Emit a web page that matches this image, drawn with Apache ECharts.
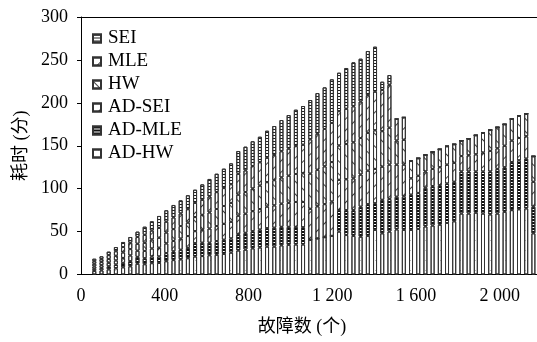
<!DOCTYPE html>
<html><head><meta charset="utf-8">
<script src="https://cdn.jsdelivr.net/npm/echarts@6/dist/echarts.min.js"></script>
<style>html,body{margin:0;padding:0;background:#fff}#c{width:537px;height:342px}</style>
</head><body><div id="c"></div>
<script>
// fault counts (one bar each)
const faults = [64,98,133,167,202,236,270,305,339,374,408,442,477,511,546,580,614,649,683,718,752,786,821,855,890,924,958,993,1027,1062,1096,1130,1165,1199,1234,1268,1302,1337,1371,1406,1440,1474,1509,1543,1578,1612,1646,1681,1715,1750,1784,1818,1853,1887,1922,1956,1990,2025,2059,2094,2128,2162];
// stacked segments, bottom to top
const adHW  = [4.2,4.8,6.0,7.2,8.4,9.6,12.5,12.0,13.2,13.5,15.5,16.8,17.8,19.0,21.0,21.5,22.5,23.0,24.0,25.5,28.0,29.0,30.5,31.5,32.5,32.5,34.0,34.5,35.0,35.0,40.5,42.0,43.5,45.0,50.0,46.0,45.0,44.0,45.0,52.0,48,50,52.6,52,52,53,56,57,58,60,62,71,71,72,71,70,71,73,75,76,77,48];
const adMLE = [2.4,2.9,3.6,4.4,5.2,6.0,8.0,7.0,7.8,7.5,9.5,10.2,11.0,12.0,15.5,15.5,14.5,16.0,16.5,16.5,19.0,19.5,20.0,20.8,21.5,22.0,21.5,21.0,20.5,20.0,0,0,0,0,25.0,29.0,30.0,35.0,37.0,31.0,39,38,38,39,41,42,45,46,46,46,46,49,49,48,49,50,52,52,56,57,58,31];
const adSEI = [2.8,3.2,4.0,4.8,5.7,6.6,7.2,8.4,9.3,10.2,11.2,12.1,13.0,13.8,14.0,15.0,16.5,17.5,18.5,19.4,21.5,22.3,23.3,24.0,25.1,26.0,27.0,28.0,29.0,29.5,36.0,37.5,38.5,40.0,35.3,36.0,37.0,37.5,39.0,40.0,38.6,40,37.4,37,19,20,19,20,21,22,22,18,19,20,22,24,24,25,25,26,26,29];
const hw    = [3.1,3.6,4.5,5.4,6.4,7.4,8.1,9.5,10.5,11.6,12.7,13.8,14.7,15.7,16.4,17.5,18.8,19.8,20.8,22.0,24.5,25.3,26.4,27.3,28.5,29.4,30.6,31.6,32.6,33.4,41.0,42.5,44.0,46.0,40.0,41.0,42.0,42.5,44.0,45.0,41.4,43,28,29,20.2,20.4,19.2,19.7,20.9,21.4,21.7,17.9,19.2,22.2,23.2,24.3,24.5,25,25.2,26,26.3,29.7];
const mle   = [3.0,3.5,4.5,5.3,6.3,7.3,7.9,9.3,10.4,11.5,12.6,13.6,14.6,15.6,16.5,17.5,18.7,19.7,20.9,21.8,24.3,25.2,26.2,27.2,28.4,29.3,30.5,31.5,32.5,33.3,40.0,42.0,43.5,45.5,40.0,41.0,42.0,42.5,44.0,45.0,48,50,25.2,26.1,0,0,0,0,0,0,0,0,0,0,0,0,0,0,0,0,0,0];
const sei   = [2.9,3.2,4.0,4.9,5.9,6.8,6.2,9.5,10.8,13.9,13.3,14.5,15.3,16.2,15.4,18.0,20.3,21.4,22.6,24.3,26.6,27.6,28.8,29.7,31.5,33.8,36.4,39.2,42.4,45.1,45.8,47.4,48.5,50.9,44.8,47.6,51.2,49.9,51.4,52.4,9.6,11.4,0,0,0,0,0,0,0,0,0,0,0,0,0,0,0,0,0,0,0,0];
const legendNames = ['SEI','MLE','HW','AD-SEI','AD-MLE','AD-HW'];
const xTicks = [0,400,800,1200,1600,2000];
const yTicks = [0,50,100,150,200,250,300];

const FONT = '"Liberation Serif", "Noto Sans CJK SC", serif';
const chart = echarts.init(document.getElementById('c'), null, {renderer:'canvas'});

function line(rot, gap){
  return {symbol:'rect', symbolSize:1, color:'rgba(0,0,0,0.75)', dashArrayX:[1,0], dashArrayY:[1,gap], rotation:rot};
}
const styles = {
  'AD-HW':  {color:'#fff', decal:{symbol:'rect', symbolSize:1, color:'rgba(0,0,0,0.25)', dashArrayX:[1,4], dashArrayY:[1,9]}},
  'AD-MLE': {color:'#fff', decal:{symbol:'rect', symbolSize:1, color:'#111', dashArrayX:[1,0], dashArrayY:[2,1]}},
  'AD-SEI': {color:'#fff', decal:line(-Math.PI/4, 8)},
  'HW':     {color:'#fff', decal:line(Math.PI/4, 8)},
  'MLE':    {color:'#fff', decal:line(-Math.PI/4, 7)},
  'SEI':    {color:'#fff', decal:{symbol:'rect', symbolSize:1, color:'#222', dashArrayX:[1,0], dashArrayY:[1,2]}}
};
const seriesDefs = [['AD-HW',adHW],['AD-MLE',adMLE],['AD-SEI',adSEI],['HW',hw],['MLE',mle],['SEI',sei]];
const series = seriesDefs.map(([name, vals]) => ({
  name, type:'bar', stack:'total', barWidth:4,
  xAxisIndex:2, yAxisIndex:1,
  data: vals,
  itemStyle:{color:styles[name].color, decal:styles[name].decal, borderColor:'#333', borderWidth:1},
  emphasis:{disabled:true}
}));

chart.setOption({
  animation:false,
  aria:{enabled:false},
  grid:[
    {left:81, right:0, top:17, bottom:67.5},
    {left:90.7, right:-0.7, top:17, bottom:67.5}
  ],
  legend:{
    data:legendNames, orient:'vertical', left:87, top:24,
    itemWidth:8, itemHeight:8, itemGap:4, icon:'rect',
    textStyle:{fontFamily:FONT, fontSize:19, color:'#000', padding:[0,0,0,2]},
    selectedMode:false
  },
  xAxis:[{
    gridIndex:0, type:'value', min:0, max:2178, interval:400,
    name:'故障数 (个)', nameLocation:'middle', nameGap:44,
    nameTextStyle:{fontFamily:FONT, fontSize:18, color:'#000', padding:[0,14,0,0]},
    axisLine:{show:true, lineStyle:{color:'#000', width:1}},
    axisTick:{show:false},
    splitLine:{show:false},
    axisLabel:{fontFamily:FONT, fontSize:18, color:'#000', margin:13, showMaxLabel:false,
      formatter:v => xTicks.indexOf(v) < 0 ? '' : (v>=1000 ? Math.floor(v/1000)+' '+String(v%1000).padStart(3,'0') : String(v))}
  },{
    gridIndex:0, type:'value', position:'top', min:0, max:2178,
    axisLine:{show:true, onZero:false, lineStyle:{color:'#000', width:1}},
    axisTick:{show:false}, axisLabel:{show:false}, splitLine:{show:false}
  },{
    gridIndex:1, type:'category', data:faults.map(String), boundaryGap:true,
    axisLine:{show:false}, axisTick:{show:false}, axisLabel:{show:false}, splitLine:{show:false}
  }],
  yAxis:[{
    gridIndex:0, type:'value', min:0, max:300, interval:50,
    name:'耗时 (分)', nameLocation:'middle', nameGap:49,
    nameTextStyle:{fontFamily:FONT, fontSize:18, color:'#000'},
    axisLine:{show:true, lineStyle:{color:'#000', width:1}},
    axisTick:{show:true, inside:false, length:4, lineStyle:{color:'#000'}},
    splitLine:{show:false},
    axisLabel:{fontFamily:FONT, fontSize:18, color:'#000', margin:13,
      formatter:v => yTicks.indexOf(v) < 0 ? '' : String(v)}
  },{
    gridIndex:1, type:'value', min:0, max:300, show:false
  }],
  series
});
</script></body></html>
